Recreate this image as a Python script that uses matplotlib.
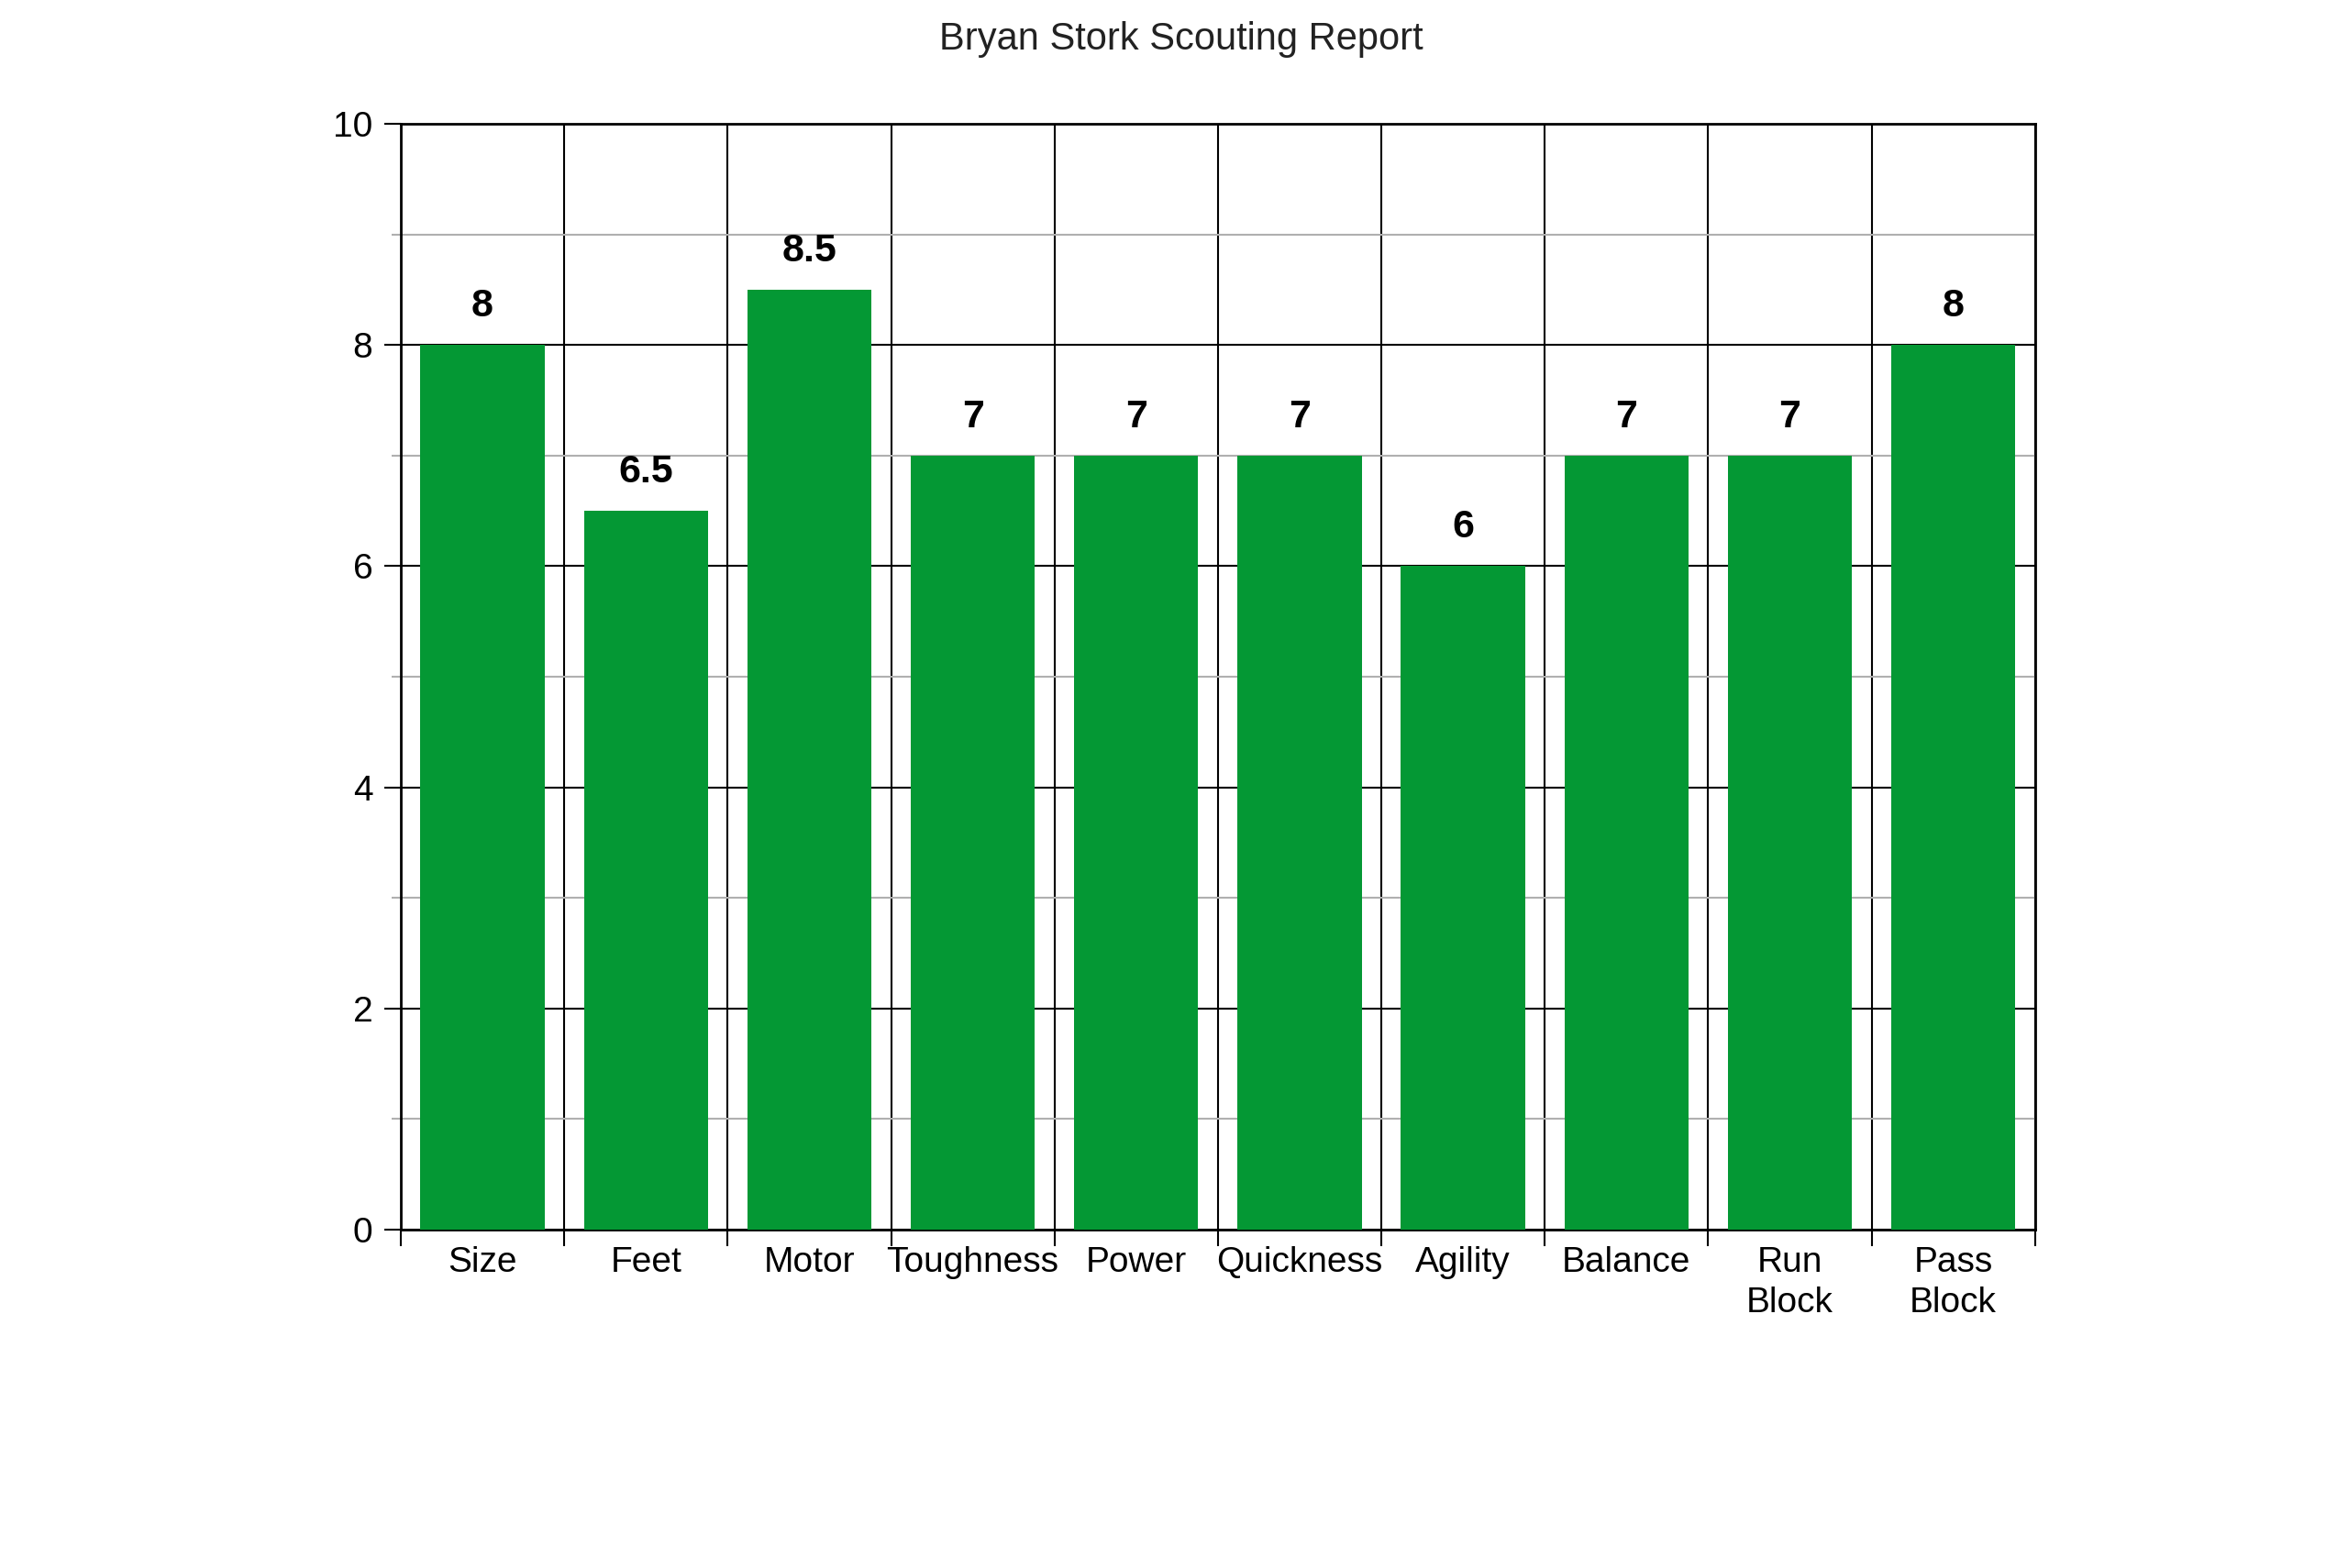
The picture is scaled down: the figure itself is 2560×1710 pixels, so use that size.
import matplotlib.pyplot as plt
import numpy as np

plt.rcParams["font.family"] = ["Liberation Sans", "DejaVu Sans"]

categories = ["Size", "Feet", "Motor", "Toughness", "Power", "Quickness",
              "Agility", "Balance", "Run\nBlock", "Pass\nBlock"]
scores = [8, 6.5, 8.5, 7, 7, 7, 6, 7, 7, 8]
score_labels = ["8", "6.5", "8.5", "7", "7", "7", "6", "7", "7", "8"]

bar_color = "#049834"

fig = plt.figure(figsize=(25.6, 17.1), dpi=100)
ax = fig.add_axes([0.1707, 0.2159, 0.6960, 0.7051])

x = np.arange(len(categories))
bars = ax.bar(x, scores, width=0.76, color=bar_color, zorder=3)

# value labels above bars
for bar, lab in zip(bars, score_labels):
    ax.annotate(lab, (bar.get_x() + bar.get_width() / 2, bar.get_height()),
                xytext=(0, 16), textcoords="offset points",
                ha="center", va="bottom", fontsize=31, fontweight="bold")

ax.set_xlim(-0.5, len(categories) - 0.5)
ax.set_ylim(0, 10)

# x: labels at centers, ticks at category boundaries
ax.set_xticks(x)
ax.set_xticklabels(categories, fontsize=28, linespacing=1.3)
ax.set_xticks(np.arange(-0.5, len(categories)), minor=True)
ax.tick_params(axis="x", which="major", length=0, pad=13)
ax.tick_params(axis="x", which="minor", length=13, width=1.5, color="black")

# y: major ticks and black grid, minor gray grid
ax.set_yticks(np.arange(0, 11, 2))
ax.set_yticks(np.arange(1, 10, 2), minor=True)
ax.tick_params(axis="y", which="major", length=13, width=1.5, labelsize=28, pad=9)
ax.tick_params(axis="y", which="minor", length=7, width=1.5, color="#b0b0b0")

ax.grid(True, axis="y", which="major", color="black", linewidth=1.5, zorder=1)
ax.grid(True, axis="y", which="minor", color="#b0b0b0", linewidth=1.5, zorder=1)
ax.grid(True, axis="x", which="minor", color="black", linewidth=1.5, zorder=1)
ax.set_axisbelow(True)

for side in ax.spines.values():
    side.set_linewidth(2)
    side.set_color("black")

fig.suptitle("Bryan Stork Scouting Report", x=0.503, y=1 - 43 / 1710,
             va="center", fontsize=30, color="#222222")

plt.savefig("out.png", dpi=100)
